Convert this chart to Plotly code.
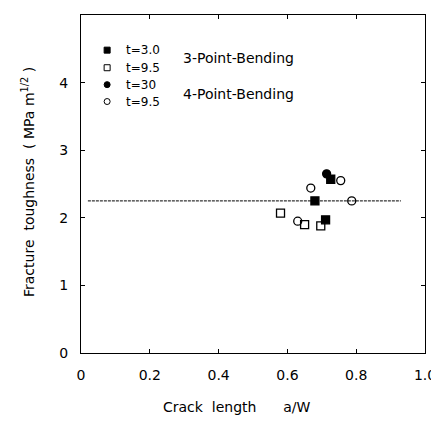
import plotly.graph_objects as go

# Data
tp30_x = [0.680, 0.711, 0.726]
tp30_y = [2.25, 1.97, 2.57]
tp95_x = [0.580, 0.650, 0.697]
tp95_y = [2.07, 1.90, 1.88]
fp30_x = [0.714]
fp30_y = [2.65]
fp95_x = [0.668, 0.787, 0.755, 0.630]
fp95_y = [2.44, 2.25, 2.55, 1.95]
mean_x = [0.02, 0.93]
mean_y = [2.25, 2.25]

x_ticks = [0, 0.2, 0.4, 0.6, 0.8, 1.0]
x_labels = ["0", "0.2", "0.4", "0.6", "0.8", "1.0"]
y_ticks = [0, 1, 2, 3, 4, 5]

leg_syms = ["square", "square-open", "circle", "circle-open"]
leg_text = ["t=3.0", "t=9.5", "t=30", "t=9.5"]
leg_y = [4.48, 4.22, 3.97, 3.72]
group_text = ["3-Point-Bending", "4-Point-Bending"]
group_y = [4.36, 3.83]

FONT = "DejaVu Sans"
fig = go.Figure()
fig.add_trace(go.Scatter(x=mean_x, y=mean_y, mode="lines",
                         line=dict(color="black", width=1, dash="3px,1px"),
                         showlegend=False))
mk = dict(size=8, color="black", line=dict(color="black", width=1.3))
fig.add_trace(go.Scatter(x=tp30_x, y=tp30_y, mode="markers",
                         marker=dict(symbol="square", **mk), showlegend=False))
fig.add_trace(go.Scatter(x=tp95_x, y=tp95_y, mode="markers",
                         marker=dict(symbol="square-open", **mk), showlegend=False))
fig.add_trace(go.Scatter(x=fp30_x, y=fp30_y, mode="markers",
                         marker=dict(symbol="circle", **mk), showlegend=False))
fig.add_trace(go.Scatter(x=fp95_x, y=fp95_y, mode="markers",
                         marker=dict(symbol="circle-open", **mk), showlegend=False))

# Legend drawn as in the reference (in-plot)
for s, t, yy in zip(leg_syms, leg_text, leg_y):
    fig.add_trace(go.Scatter(x=[0.076], y=[yy], mode="markers",
                             marker=dict(symbol=s, size=6, color="black",
                                         line=dict(color="black", width=1)),
                             showlegend=False))
    fig.add_annotation(x=0.125, y=yy, text=t, showarrow=False, xanchor="left",
                       font=dict(family=FONT, size=12, color="black"))
for t, yy in zip(group_text, group_y):
    fig.add_annotation(x=0.29, y=yy, text=t, showarrow=False, xanchor="left",
                       font=dict(family=FONT, size=14, color="black"))

# Axis titles
fig.add_annotation(xref="paper", yref="paper", x=0.453, y=-0.16,
                   xanchor="center", yanchor="middle",
                   text="Crack &nbsp;length &nbsp;&nbsp;&nbsp;&nbsp; a/W", showarrow=False,
                   font=dict(family=FONT, size=14, color="black"))
fig.add_annotation(xref="paper", yref="paper", x=-0.154, y=0.506, textangle=-90,
                   xanchor="center", yanchor="middle",
                   text="Fracture &nbsp;toughness &nbsp;( MPa m<sup>1/2</sup> )",
                   showarrow=False, font=dict(family=FONT, size=14, color="black"))

axis_common = dict(showgrid=False, zeroline=False, showline=True, linecolor="black",
                   linewidth=1.3, mirror="ticks", ticks="inside", ticklen=4,
                   tickcolor="black", automargin=False, ticklabelstandoff=9,
                   tickfont=dict(family=FONT, size=14, color="black"))
fig.update_xaxes(range=[0, 1.0], tickvals=x_ticks, ticktext=x_labels, **axis_common)
fig.update_yaxes(range=[0, 5], tickvals=y_ticks, **axis_common)
# The page body adds an 8px margin, so the figure is sized to fit the window
fig.update_layout(width=431, height=415, margin=dict(l=73, r=14, t=7, b=70),
                  plot_bgcolor="white", paper_bgcolor="white")
fig.write_html("out.html")
